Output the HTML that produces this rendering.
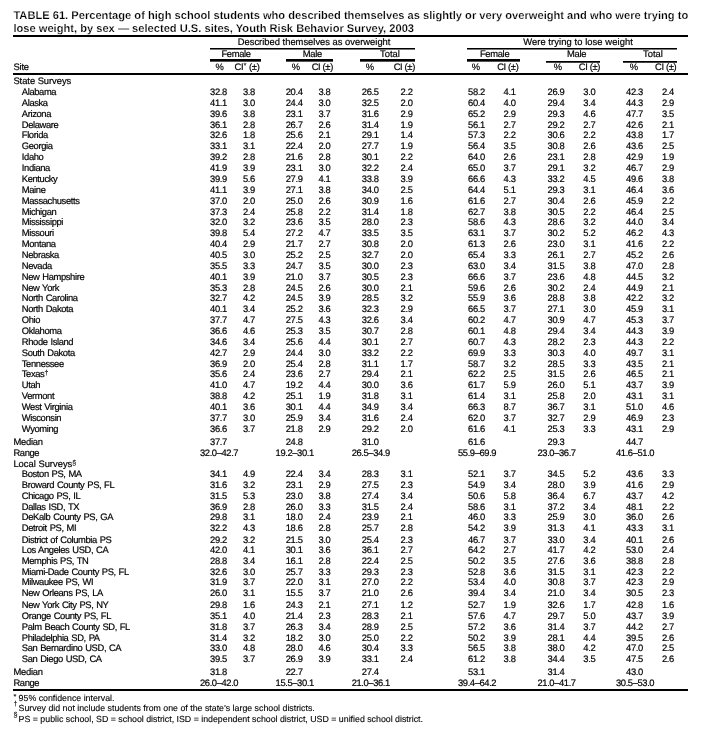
<!DOCTYPE html>
<html><head><meta charset="utf-8"><title>Table 61</title>
<style>
html,body{margin:0;padding:0;background:#fff;}
body{width:704px;height:737px;position:relative;overflow:hidden;font-family:"Liberation Sans",sans-serif;color:#000;font-size:9.4px;line-height:11px;text-rendering:geometricPrecision;-webkit-text-stroke:0.2px #000;}
#w{position:absolute;left:0;top:0;width:704px;height:737px;will-change:transform;}
.title{position:absolute;left:13.4px;font-weight:bold;-webkit-text-stroke:0.2px #fff;font-size:11.13px;line-height:12px;white-space:nowrap;}
.r{position:absolute;left:0;width:704px;height:10px;white-space:nowrap;}
.r span{position:absolute;top:0;}
.nm{left:13.4px;}
.nm.i{left:21.8px;letter-spacing:-0.37px;word-spacing:0.6px;}
.n{width:60px;text-align:center;letter-spacing:-0.36px;}
.rg .n{letter-spacing:-0.39px;}
.h{position:absolute;width:200px;text-align:center;white-space:nowrap;}
.rule{position:absolute;background:#000;}
sup{font-size:7px;line-height:0;vertical-align:1.7px;letter-spacing:0;-webkit-text-stroke:0.1px #000;}
sup.st{font-size:7.6px;vertical-align:2.2px;}
.fn{position:absolute;left:13px;white-space:nowrap;font-size:8.8px;line-height:10px;-webkit-text-stroke:0.12px #000;}
.fn .m{position:absolute;left:0.5px;font-size:7.3px;-webkit-text-stroke:0.1px #000;}
.fn .t{position:absolute;left:5.6px;top:0;}
</style></head><body><div id="w">
<div class="title" style="top:10px">TABLE 61. Percentage of high school students who described themselves as slightly or very overweight and who were trying to</div>
<div class="title" style="top:23px">lose weight, by sex — selected U.S. sites, Youth Risk Behavior Survey, 2003</div>
<div class="rule" style="left:13.00px;top:35.00px;width:674.50px;height:2.00px"></div>
<div class="rule" style="left:13.00px;top:73.00px;width:674.50px;height:2.00px"></div>
<div class="rule" style="left:13.00px;top:689.00px;width:674.50px;height:2.00px"></div>
<span class="h" style="top:36px;left:214.12px;letter-spacing:0.00px">Described themselves as overweight</span>
<span class="h" style="top:36px;left:478.04px;letter-spacing:0.08px">Were trying to lose weight</span>
<div class="rule" style="left:210.00px;top:48.00px;width:204.50px;height:1.00px"></div>
<div class="rule" style="left:210.00px;top:49.00px;width:204.50px;height:1px;background:#777"></div>
<div class="rule" style="left:466.50px;top:48.00px;width:210.50px;height:1.00px"></div>
<div class="rule" style="left:466.50px;top:49.00px;width:210.50px;height:1px;background:#777"></div>
<span class="h" style="top:48px;left:136.09px;letter-spacing:-0.31px">Female</span>
<span class="h" style="top:48px;left:212.32px;letter-spacing:-0.35px">Male</span>
<span class="h" style="top:48px;left:290.01px;letter-spacing:0.03px">Total</span>
<span class="h" style="top:48px;left:394.60px;letter-spacing:-0.31px">Female</span>
<span class="h" style="top:48px;left:476.57px;letter-spacing:-0.35px">Male</span>
<span class="h" style="top:48px;left:553.01px;letter-spacing:0.03px">Total</span>
<div class="rule" style="left:210.00px;top:59.00px;width:50.50px;height:2.00px"></div>
<div class="rule" style="left:210.00px;top:61.00px;width:50.50px;height:1px;background:#555"></div>
<div class="rule" style="left:286.00px;top:59.00px;width:46.50px;height:2.00px"></div>
<div class="rule" style="left:286.00px;top:61.00px;width:46.50px;height:1px;background:#555"></div>
<div class="rule" style="left:360.00px;top:59.00px;width:54.50px;height:2.00px"></div>
<div class="rule" style="left:360.00px;top:61.00px;width:54.50px;height:1px;background:#555"></div>
<div class="rule" style="left:466.50px;top:59.00px;width:53.00px;height:2.00px"></div>
<div class="rule" style="left:466.50px;top:61.00px;width:53.00px;height:1px;background:#555"></div>
<div class="rule" style="left:546.00px;top:61.00px;width:54.00px;height:1.00px"></div>
<div class="rule" style="left:546.00px;top:62.00px;width:54.00px;height:1px;background:#444"></div>
<div class="rule" style="left:623.00px;top:61.00px;width:54.00px;height:1.00px"></div>
<div class="rule" style="left:623.00px;top:62.00px;width:54.00px;height:1px;background:#444"></div>
<span class="h" style="top:61px;left:119.70px;letter-spacing:0.00px">%</span>
<span class="h" style="top:61px;left:147.12px;letter-spacing:-0.15px">CI<sup class="st">*</sup> (±)</span>
<span class="h" style="top:61px;left:196.00px;letter-spacing:0.00px">%</span>
<span class="h" style="top:61px;left:222.32px;letter-spacing:-0.36px">CI (±)</span>
<span class="h" style="top:61px;left:269.90px;letter-spacing:0.00px">%</span>
<span class="h" style="top:61px;left:304.32px;letter-spacing:-0.36px">CI (±)</span>
<span class="h" style="top:61px;left:376.00px;letter-spacing:0.00px">%</span>
<span class="h" style="top:61px;left:407.82px;letter-spacing:-0.36px">CI (±)</span>
<span class="h" style="top:61px;left:458.00px;letter-spacing:0.00px">%</span>
<span class="h" style="top:61px;left:489.42px;letter-spacing:-0.36px">CI (±)</span>
<span class="h" style="top:61px;left:534.00px;letter-spacing:0.00px">%</span>
<span class="h" style="top:61px;left:565.72px;letter-spacing:-0.36px">CI (±)</span>
<span class="h" style="top:61px;left:13.4px;width:auto;text-align:left;letter-spacing:-0.17px">Site</span>
<div class="r" style="top:86px"><span class="nm i">Alabama</span><span class="n" style="left:188.50px">32.8</span><span class="n" style="left:218.90px">3.8</span><span class="n" style="left:264.10px">20.4</span><span class="n" style="left:294.50px">3.8</span><span class="n" style="left:340.20px">26.5</span><span class="n" style="left:376.60px">2.2</span><span class="n" style="left:446.50px">58.2</span><span class="n" style="left:479.60px">4.1</span><span class="n" style="left:526.00px">26.9</span><span class="n" style="left:559.30px">3.0</span><span class="n" style="left:604.50px">42.3</span><span class="n" style="left:638.00px">2.4</span></div>
<div class="r" style="top:97px"><span class="nm i">Alaska</span><span class="n" style="left:188.50px">41.1</span><span class="n" style="left:218.90px">3.0</span><span class="n" style="left:264.10px">24.4</span><span class="n" style="left:294.50px">3.0</span><span class="n" style="left:340.20px">32.5</span><span class="n" style="left:376.60px">2.0</span><span class="n" style="left:446.50px">60.4</span><span class="n" style="left:479.60px">4.0</span><span class="n" style="left:526.00px">29.4</span><span class="n" style="left:559.30px">3.4</span><span class="n" style="left:604.50px">44.3</span><span class="n" style="left:638.00px">2.9</span></div>
<div class="r" style="top:108px"><span class="nm i">Arizona</span><span class="n" style="left:188.50px">39.6</span><span class="n" style="left:218.90px">3.8</span><span class="n" style="left:264.10px">23.1</span><span class="n" style="left:294.50px">3.7</span><span class="n" style="left:340.20px">31.6</span><span class="n" style="left:376.60px">2.9</span><span class="n" style="left:446.50px">65.2</span><span class="n" style="left:479.60px">2.9</span><span class="n" style="left:526.00px">29.3</span><span class="n" style="left:559.30px">4.6</span><span class="n" style="left:604.50px">47.7</span><span class="n" style="left:638.00px">3.5</span></div>
<div class="r" style="top:119px"><span class="nm i">Delaware</span><span class="n" style="left:188.50px">36.1</span><span class="n" style="left:218.90px">2.8</span><span class="n" style="left:264.10px">26.7</span><span class="n" style="left:294.50px">2.6</span><span class="n" style="left:340.20px">31.4</span><span class="n" style="left:376.60px">1.9</span><span class="n" style="left:446.50px">56.1</span><span class="n" style="left:479.60px">2.7</span><span class="n" style="left:526.00px">29.2</span><span class="n" style="left:559.30px">2.7</span><span class="n" style="left:604.50px">42.6</span><span class="n" style="left:638.00px">2.1</span></div>
<div class="r" style="top:129px"><span class="nm i">Florida</span><span class="n" style="left:188.50px">32.6</span><span class="n" style="left:218.90px">1.8</span><span class="n" style="left:264.10px">25.6</span><span class="n" style="left:294.50px">2.1</span><span class="n" style="left:340.20px">29.1</span><span class="n" style="left:376.60px">1.4</span><span class="n" style="left:446.50px">57.3</span><span class="n" style="left:479.60px">2.2</span><span class="n" style="left:526.00px">30.6</span><span class="n" style="left:559.30px">2.2</span><span class="n" style="left:604.50px">43.8</span><span class="n" style="left:638.00px">1.7</span></div>
<div class="r" style="top:140px"><span class="nm i">Georgia</span><span class="n" style="left:188.50px">33.1</span><span class="n" style="left:218.90px">3.1</span><span class="n" style="left:264.10px">22.4</span><span class="n" style="left:294.50px">2.0</span><span class="n" style="left:340.20px">27.7</span><span class="n" style="left:376.60px">1.9</span><span class="n" style="left:446.50px">56.4</span><span class="n" style="left:479.60px">3.5</span><span class="n" style="left:526.00px">30.8</span><span class="n" style="left:559.30px">2.6</span><span class="n" style="left:604.50px">43.6</span><span class="n" style="left:638.00px">2.5</span></div>
<div class="r" style="top:151px"><span class="nm i">Idaho</span><span class="n" style="left:188.50px">39.2</span><span class="n" style="left:218.90px">2.8</span><span class="n" style="left:264.10px">21.6</span><span class="n" style="left:294.50px">2.8</span><span class="n" style="left:340.20px">30.1</span><span class="n" style="left:376.60px">2.2</span><span class="n" style="left:446.50px">64.0</span><span class="n" style="left:479.60px">2.6</span><span class="n" style="left:526.00px">23.1</span><span class="n" style="left:559.30px">2.8</span><span class="n" style="left:604.50px">42.9</span><span class="n" style="left:638.00px">1.9</span></div>
<div class="r" style="top:162px"><span class="nm i">Indiana</span><span class="n" style="left:188.50px">41.9</span><span class="n" style="left:218.90px">3.9</span><span class="n" style="left:264.10px">23.1</span><span class="n" style="left:294.50px">3.0</span><span class="n" style="left:340.20px">32.2</span><span class="n" style="left:376.60px">2.4</span><span class="n" style="left:446.50px">65.0</span><span class="n" style="left:479.60px">3.7</span><span class="n" style="left:526.00px">29.1</span><span class="n" style="left:559.30px">3.2</span><span class="n" style="left:604.50px">46.7</span><span class="n" style="left:638.00px">2.9</span></div>
<div class="r" style="top:173px"><span class="nm i">Kentucky</span><span class="n" style="left:188.50px">39.9</span><span class="n" style="left:218.90px">5.6</span><span class="n" style="left:264.10px">27.9</span><span class="n" style="left:294.50px">4.1</span><span class="n" style="left:340.20px">33.8</span><span class="n" style="left:376.60px">3.9</span><span class="n" style="left:446.50px">66.6</span><span class="n" style="left:479.60px">4.3</span><span class="n" style="left:526.00px">33.2</span><span class="n" style="left:559.30px">4.5</span><span class="n" style="left:604.50px">49.6</span><span class="n" style="left:638.00px">3.8</span></div>
<div class="r" style="top:184px"><span class="nm i">Maine</span><span class="n" style="left:188.50px">41.1</span><span class="n" style="left:218.90px">3.9</span><span class="n" style="left:264.10px">27.1</span><span class="n" style="left:294.50px">3.8</span><span class="n" style="left:340.20px">34.0</span><span class="n" style="left:376.60px">2.5</span><span class="n" style="left:446.50px">64.4</span><span class="n" style="left:479.60px">5.1</span><span class="n" style="left:526.00px">29.3</span><span class="n" style="left:559.30px">3.1</span><span class="n" style="left:604.50px">46.4</span><span class="n" style="left:638.00px">3.6</span></div>
<div class="r" style="top:195px"><span class="nm i">Massachusetts</span><span class="n" style="left:188.50px">37.0</span><span class="n" style="left:218.90px">2.0</span><span class="n" style="left:264.10px">25.0</span><span class="n" style="left:294.50px">2.6</span><span class="n" style="left:340.20px">30.9</span><span class="n" style="left:376.60px">1.6</span><span class="n" style="left:446.50px">61.6</span><span class="n" style="left:479.60px">2.7</span><span class="n" style="left:526.00px">30.4</span><span class="n" style="left:559.30px">2.6</span><span class="n" style="left:604.50px">45.9</span><span class="n" style="left:638.00px">2.2</span></div>
<div class="r" style="top:206px"><span class="nm i">Michigan</span><span class="n" style="left:188.50px">37.3</span><span class="n" style="left:218.90px">2.4</span><span class="n" style="left:264.10px">25.8</span><span class="n" style="left:294.50px">2.2</span><span class="n" style="left:340.20px">31.4</span><span class="n" style="left:376.60px">1.8</span><span class="n" style="left:446.50px">62.7</span><span class="n" style="left:479.60px">3.8</span><span class="n" style="left:526.00px">30.5</span><span class="n" style="left:559.30px">2.2</span><span class="n" style="left:604.50px">46.4</span><span class="n" style="left:638.00px">2.5</span></div>
<div class="r" style="top:216px"><span class="nm i">Mississippi</span><span class="n" style="left:188.50px">32.0</span><span class="n" style="left:218.90px">3.2</span><span class="n" style="left:264.10px">23.6</span><span class="n" style="left:294.50px">3.5</span><span class="n" style="left:340.20px">28.0</span><span class="n" style="left:376.60px">2.3</span><span class="n" style="left:446.50px">58.6</span><span class="n" style="left:479.60px">4.3</span><span class="n" style="left:526.00px">28.6</span><span class="n" style="left:559.30px">3.2</span><span class="n" style="left:604.50px">44.0</span><span class="n" style="left:638.00px">3.4</span></div>
<div class="r" style="top:227px"><span class="nm i">Missouri</span><span class="n" style="left:188.50px">39.8</span><span class="n" style="left:218.90px">5.4</span><span class="n" style="left:264.10px">27.2</span><span class="n" style="left:294.50px">4.7</span><span class="n" style="left:340.20px">33.5</span><span class="n" style="left:376.60px">3.5</span><span class="n" style="left:446.50px">63.1</span><span class="n" style="left:479.60px">3.7</span><span class="n" style="left:526.00px">30.2</span><span class="n" style="left:559.30px">5.2</span><span class="n" style="left:604.50px">46.2</span><span class="n" style="left:638.00px">4.3</span></div>
<div class="r" style="top:238px"><span class="nm i">Montana</span><span class="n" style="left:188.50px">40.4</span><span class="n" style="left:218.90px">2.9</span><span class="n" style="left:264.10px">21.7</span><span class="n" style="left:294.50px">2.7</span><span class="n" style="left:340.20px">30.8</span><span class="n" style="left:376.60px">2.0</span><span class="n" style="left:446.50px">61.3</span><span class="n" style="left:479.60px">2.6</span><span class="n" style="left:526.00px">23.0</span><span class="n" style="left:559.30px">3.1</span><span class="n" style="left:604.50px">41.6</span><span class="n" style="left:638.00px">2.2</span></div>
<div class="r" style="top:249px"><span class="nm i">Nebraska</span><span class="n" style="left:188.50px">40.5</span><span class="n" style="left:218.90px">3.0</span><span class="n" style="left:264.10px">25.2</span><span class="n" style="left:294.50px">2.5</span><span class="n" style="left:340.20px">32.7</span><span class="n" style="left:376.60px">2.0</span><span class="n" style="left:446.50px">65.4</span><span class="n" style="left:479.60px">3.3</span><span class="n" style="left:526.00px">26.1</span><span class="n" style="left:559.30px">2.7</span><span class="n" style="left:604.50px">45.2</span><span class="n" style="left:638.00px">2.6</span></div>
<div class="r" style="top:260px"><span class="nm i">Nevada</span><span class="n" style="left:188.50px">35.5</span><span class="n" style="left:218.90px">3.3</span><span class="n" style="left:264.10px">24.7</span><span class="n" style="left:294.50px">3.5</span><span class="n" style="left:340.20px">30.0</span><span class="n" style="left:376.60px">2.3</span><span class="n" style="left:446.50px">63.0</span><span class="n" style="left:479.60px">3.4</span><span class="n" style="left:526.00px">31.5</span><span class="n" style="left:559.30px">3.8</span><span class="n" style="left:604.50px">47.0</span><span class="n" style="left:638.00px">2.8</span></div>
<div class="r" style="top:271px"><span class="nm i">New Hampshire</span><span class="n" style="left:188.50px">40.1</span><span class="n" style="left:218.90px">3.9</span><span class="n" style="left:264.10px">21.0</span><span class="n" style="left:294.50px">3.7</span><span class="n" style="left:340.20px">30.5</span><span class="n" style="left:376.60px">2.3</span><span class="n" style="left:446.50px">66.6</span><span class="n" style="left:479.60px">3.7</span><span class="n" style="left:526.00px">23.6</span><span class="n" style="left:559.30px">4.8</span><span class="n" style="left:604.50px">44.5</span><span class="n" style="left:638.00px">3.2</span></div>
<div class="r" style="top:282px"><span class="nm i">New York</span><span class="n" style="left:188.50px">35.3</span><span class="n" style="left:218.90px">2.8</span><span class="n" style="left:264.10px">24.5</span><span class="n" style="left:294.50px">2.6</span><span class="n" style="left:340.20px">30.0</span><span class="n" style="left:376.60px">2.1</span><span class="n" style="left:446.50px">59.6</span><span class="n" style="left:479.60px">2.6</span><span class="n" style="left:526.00px">30.2</span><span class="n" style="left:559.30px">2.4</span><span class="n" style="left:604.50px">44.9</span><span class="n" style="left:638.00px">2.1</span></div>
<div class="r" style="top:292px"><span class="nm i">North Carolina</span><span class="n" style="left:188.50px">32.7</span><span class="n" style="left:218.90px">4.2</span><span class="n" style="left:264.10px">24.5</span><span class="n" style="left:294.50px">3.9</span><span class="n" style="left:340.20px">28.5</span><span class="n" style="left:376.60px">3.2</span><span class="n" style="left:446.50px">55.9</span><span class="n" style="left:479.60px">3.6</span><span class="n" style="left:526.00px">28.8</span><span class="n" style="left:559.30px">3.8</span><span class="n" style="left:604.50px">42.2</span><span class="n" style="left:638.00px">3.2</span></div>
<div class="r" style="top:303px"><span class="nm i">North Dakota</span><span class="n" style="left:188.50px">40.1</span><span class="n" style="left:218.90px">3.4</span><span class="n" style="left:264.10px">25.2</span><span class="n" style="left:294.50px">3.6</span><span class="n" style="left:340.20px">32.3</span><span class="n" style="left:376.60px">2.9</span><span class="n" style="left:446.50px">66.5</span><span class="n" style="left:479.60px">3.7</span><span class="n" style="left:526.00px">27.1</span><span class="n" style="left:559.30px">3.0</span><span class="n" style="left:604.50px">45.9</span><span class="n" style="left:638.00px">3.1</span></div>
<div class="r" style="top:314px"><span class="nm i">Ohio</span><span class="n" style="left:188.50px">37.7</span><span class="n" style="left:218.90px">4.7</span><span class="n" style="left:264.10px">27.5</span><span class="n" style="left:294.50px">4.3</span><span class="n" style="left:340.20px">32.6</span><span class="n" style="left:376.60px">3.4</span><span class="n" style="left:446.50px">60.2</span><span class="n" style="left:479.60px">4.7</span><span class="n" style="left:526.00px">30.9</span><span class="n" style="left:559.30px">4.7</span><span class="n" style="left:604.50px">45.3</span><span class="n" style="left:638.00px">3.7</span></div>
<div class="r" style="top:325px"><span class="nm i">Oklahoma</span><span class="n" style="left:188.50px">36.6</span><span class="n" style="left:218.90px">4.6</span><span class="n" style="left:264.10px">25.3</span><span class="n" style="left:294.50px">3.5</span><span class="n" style="left:340.20px">30.7</span><span class="n" style="left:376.60px">2.8</span><span class="n" style="left:446.50px">60.1</span><span class="n" style="left:479.60px">4.8</span><span class="n" style="left:526.00px">29.4</span><span class="n" style="left:559.30px">3.4</span><span class="n" style="left:604.50px">44.3</span><span class="n" style="left:638.00px">3.9</span></div>
<div class="r" style="top:336px"><span class="nm i">Rhode Island</span><span class="n" style="left:188.50px">34.6</span><span class="n" style="left:218.90px">3.4</span><span class="n" style="left:264.10px">25.6</span><span class="n" style="left:294.50px">4.4</span><span class="n" style="left:340.20px">30.1</span><span class="n" style="left:376.60px">2.7</span><span class="n" style="left:446.50px">60.7</span><span class="n" style="left:479.60px">4.3</span><span class="n" style="left:526.00px">28.2</span><span class="n" style="left:559.30px">2.3</span><span class="n" style="left:604.50px">44.3</span><span class="n" style="left:638.00px">2.2</span></div>
<div class="r" style="top:347px"><span class="nm i">South Dakota</span><span class="n" style="left:188.50px">42.7</span><span class="n" style="left:218.90px">2.9</span><span class="n" style="left:264.10px">24.4</span><span class="n" style="left:294.50px">3.0</span><span class="n" style="left:340.20px">33.2</span><span class="n" style="left:376.60px">2.2</span><span class="n" style="left:446.50px">69.9</span><span class="n" style="left:479.60px">3.3</span><span class="n" style="left:526.00px">30.3</span><span class="n" style="left:559.30px">4.0</span><span class="n" style="left:604.50px">49.7</span><span class="n" style="left:638.00px">3.1</span></div>
<div class="r" style="top:358px"><span class="nm i">Tennessee</span><span class="n" style="left:188.50px">36.9</span><span class="n" style="left:218.90px">2.0</span><span class="n" style="left:264.10px">25.4</span><span class="n" style="left:294.50px">2.8</span><span class="n" style="left:340.20px">31.1</span><span class="n" style="left:376.60px">1.7</span><span class="n" style="left:446.50px">58.7</span><span class="n" style="left:479.60px">3.2</span><span class="n" style="left:526.00px">28.5</span><span class="n" style="left:559.30px">3.3</span><span class="n" style="left:604.50px">43.5</span><span class="n" style="left:638.00px">2.1</span></div>
<div class="r" style="top:368px"><span class="nm i">Texas<sup>†</sup></span><span class="n" style="left:188.50px">35.6</span><span class="n" style="left:218.90px">2.4</span><span class="n" style="left:264.10px">23.6</span><span class="n" style="left:294.50px">2.7</span><span class="n" style="left:340.20px">29.4</span><span class="n" style="left:376.60px">2.1</span><span class="n" style="left:446.50px">62.2</span><span class="n" style="left:479.60px">2.5</span><span class="n" style="left:526.00px">31.5</span><span class="n" style="left:559.30px">2.6</span><span class="n" style="left:604.50px">46.5</span><span class="n" style="left:638.00px">2.1</span></div>
<div class="r" style="top:379px"><span class="nm i">Utah</span><span class="n" style="left:188.50px">41.0</span><span class="n" style="left:218.90px">4.7</span><span class="n" style="left:264.10px">19.2</span><span class="n" style="left:294.50px">4.4</span><span class="n" style="left:340.20px">30.0</span><span class="n" style="left:376.60px">3.6</span><span class="n" style="left:446.50px">61.7</span><span class="n" style="left:479.60px">5.9</span><span class="n" style="left:526.00px">26.0</span><span class="n" style="left:559.30px">5.1</span><span class="n" style="left:604.50px">43.7</span><span class="n" style="left:638.00px">3.9</span></div>
<div class="r" style="top:390px"><span class="nm i">Vermont</span><span class="n" style="left:188.50px">38.8</span><span class="n" style="left:218.90px">4.2</span><span class="n" style="left:264.10px">25.1</span><span class="n" style="left:294.50px">1.9</span><span class="n" style="left:340.20px">31.8</span><span class="n" style="left:376.60px">3.1</span><span class="n" style="left:446.50px">61.4</span><span class="n" style="left:479.60px">3.1</span><span class="n" style="left:526.00px">25.8</span><span class="n" style="left:559.30px">2.0</span><span class="n" style="left:604.50px">43.1</span><span class="n" style="left:638.00px">3.1</span></div>
<div class="r" style="top:401px"><span class="nm i">West Virginia</span><span class="n" style="left:188.50px">40.1</span><span class="n" style="left:218.90px">3.6</span><span class="n" style="left:264.10px">30.1</span><span class="n" style="left:294.50px">4.4</span><span class="n" style="left:340.20px">34.9</span><span class="n" style="left:376.60px">3.4</span><span class="n" style="left:446.50px">66.3</span><span class="n" style="left:479.60px">8.7</span><span class="n" style="left:526.00px">36.7</span><span class="n" style="left:559.30px">3.1</span><span class="n" style="left:604.50px">51.0</span><span class="n" style="left:638.00px">4.6</span></div>
<div class="r" style="top:412px"><span class="nm i">Wisconsin</span><span class="n" style="left:188.50px">37.7</span><span class="n" style="left:218.90px">3.0</span><span class="n" style="left:264.10px">25.9</span><span class="n" style="left:294.50px">3.4</span><span class="n" style="left:340.20px">31.6</span><span class="n" style="left:376.60px">2.4</span><span class="n" style="left:446.50px">62.0</span><span class="n" style="left:479.60px">3.7</span><span class="n" style="left:526.00px">32.7</span><span class="n" style="left:559.30px">2.9</span><span class="n" style="left:604.50px">46.9</span><span class="n" style="left:638.00px">2.3</span></div>
<div class="r" style="top:423px"><span class="nm i">Wyoming</span><span class="n" style="left:188.50px">36.6</span><span class="n" style="left:218.90px">3.7</span><span class="n" style="left:264.10px">21.8</span><span class="n" style="left:294.50px">2.9</span><span class="n" style="left:340.20px">29.2</span><span class="n" style="left:376.60px">2.0</span><span class="n" style="left:446.50px">61.6</span><span class="n" style="left:479.60px">4.1</span><span class="n" style="left:526.00px">25.3</span><span class="n" style="left:559.30px">3.3</span><span class="n" style="left:604.50px">43.1</span><span class="n" style="left:638.00px">2.9</span></div>
<div class="r" style="top:75px"><span class="nm" style="letter-spacing:-0.04px">State Surveys</span></div>
<div class="r" style="top:436px"><span class="nm" style="letter-spacing:-0.21px">Median</span><span class="n" style="left:188.50px">37.7</span><span class="n" style="left:264.10px">24.8</span><span class="n" style="left:340.20px">31.0</span><span class="n" style="left:446.50px">61.6</span><span class="n" style="left:526.00px">29.3</span><span class="n" style="left:604.50px">44.7</span></div>
<div class="r rg" style="top:447px"><span class="nm" style="letter-spacing:-0.36px">Range</span><span class="n" style="left:189.10px">32.0–42.7</span><span class="n" style="left:264.70px">19.2–30.1</span><span class="n" style="left:340.80px">26.5–34.9</span><span class="n" style="left:447.10px">55.9–69.9</span><span class="n" style="left:526.60px">23.0–36.7</span><span class="n" style="left:605.10px">41.6–51.0</span></div>
<div class="r" style="top:458px"><span class="nm" style="letter-spacing:0.00px">Local Surveys<sup>§</sup></span></div>
<div class="r" style="top:468px"><span class="nm i">Boston PS, MA</span><span class="n" style="left:188.50px">34.1</span><span class="n" style="left:218.90px">4.9</span><span class="n" style="left:264.10px">22.4</span><span class="n" style="left:294.50px">3.4</span><span class="n" style="left:340.20px">28.3</span><span class="n" style="left:376.60px">3.1</span><span class="n" style="left:446.50px">52.1</span><span class="n" style="left:479.60px">3.7</span><span class="n" style="left:526.00px">34.5</span><span class="n" style="left:559.30px">5.2</span><span class="n" style="left:604.50px">43.6</span><span class="n" style="left:638.00px">3.3</span></div>
<div class="r" style="top:479px"><span class="nm i">Broward County PS, FL</span><span class="n" style="left:188.50px">31.6</span><span class="n" style="left:218.90px">3.2</span><span class="n" style="left:264.10px">23.1</span><span class="n" style="left:294.50px">2.9</span><span class="n" style="left:340.20px">27.5</span><span class="n" style="left:376.60px">2.3</span><span class="n" style="left:446.50px">54.9</span><span class="n" style="left:479.60px">3.4</span><span class="n" style="left:526.00px">28.0</span><span class="n" style="left:559.30px">3.9</span><span class="n" style="left:604.50px">41.6</span><span class="n" style="left:638.00px">2.9</span></div>
<div class="r" style="top:490px"><span class="nm i">Chicago PS, IL</span><span class="n" style="left:188.50px">31.5</span><span class="n" style="left:218.90px">5.3</span><span class="n" style="left:264.10px">23.0</span><span class="n" style="left:294.50px">3.8</span><span class="n" style="left:340.20px">27.4</span><span class="n" style="left:376.60px">3.4</span><span class="n" style="left:446.50px">50.6</span><span class="n" style="left:479.60px">5.8</span><span class="n" style="left:526.00px">36.4</span><span class="n" style="left:559.30px">6.7</span><span class="n" style="left:604.50px">43.7</span><span class="n" style="left:638.00px">4.2</span></div>
<div class="r" style="top:501px"><span class="nm i">Dallas ISD, TX</span><span class="n" style="left:188.50px">36.9</span><span class="n" style="left:218.90px">2.8</span><span class="n" style="left:264.10px">26.0</span><span class="n" style="left:294.50px">3.3</span><span class="n" style="left:340.20px">31.5</span><span class="n" style="left:376.60px">2.4</span><span class="n" style="left:446.50px">58.6</span><span class="n" style="left:479.60px">3.1</span><span class="n" style="left:526.00px">37.2</span><span class="n" style="left:559.30px">3.4</span><span class="n" style="left:604.50px">48.1</span><span class="n" style="left:638.00px">2.2</span></div>
<div class="r" style="top:511px"><span class="nm i">DeKalb County PS, GA</span><span class="n" style="left:188.50px">29.8</span><span class="n" style="left:218.90px">3.1</span><span class="n" style="left:264.10px">18.0</span><span class="n" style="left:294.50px">2.4</span><span class="n" style="left:340.20px">23.9</span><span class="n" style="left:376.60px">2.1</span><span class="n" style="left:446.50px">46.0</span><span class="n" style="left:479.60px">3.3</span><span class="n" style="left:526.00px">25.9</span><span class="n" style="left:559.30px">3.0</span><span class="n" style="left:604.50px">36.0</span><span class="n" style="left:638.00px">2.6</span></div>
<div class="r" style="top:522px"><span class="nm i">Detroit PS, MI</span><span class="n" style="left:188.50px">32.2</span><span class="n" style="left:218.90px">4.3</span><span class="n" style="left:264.10px">18.6</span><span class="n" style="left:294.50px">2.8</span><span class="n" style="left:340.20px">25.7</span><span class="n" style="left:376.60px">2.8</span><span class="n" style="left:446.50px">54.2</span><span class="n" style="left:479.60px">3.9</span><span class="n" style="left:526.00px">31.3</span><span class="n" style="left:559.30px">4.1</span><span class="n" style="left:604.50px">43.3</span><span class="n" style="left:638.00px">3.1</span></div>
<div class="r" style="top:534px"><span class="nm i">District of Columbia PS</span><span class="n" style="left:188.50px">29.2</span><span class="n" style="left:218.90px">3.2</span><span class="n" style="left:264.10px">21.5</span><span class="n" style="left:294.50px">3.0</span><span class="n" style="left:340.20px">25.4</span><span class="n" style="left:376.60px">2.3</span><span class="n" style="left:446.50px">46.7</span><span class="n" style="left:479.60px">3.7</span><span class="n" style="left:526.00px">33.0</span><span class="n" style="left:559.30px">3.4</span><span class="n" style="left:604.50px">40.1</span><span class="n" style="left:638.00px">2.6</span></div>
<div class="r" style="top:544px"><span class="nm i">Los Angeles USD, CA</span><span class="n" style="left:188.50px">42.0</span><span class="n" style="left:218.90px">4.1</span><span class="n" style="left:264.10px">30.1</span><span class="n" style="left:294.50px">3.6</span><span class="n" style="left:340.20px">36.1</span><span class="n" style="left:376.60px">2.7</span><span class="n" style="left:446.50px">64.2</span><span class="n" style="left:479.60px">2.7</span><span class="n" style="left:526.00px">41.7</span><span class="n" style="left:559.30px">4.2</span><span class="n" style="left:604.50px">53.0</span><span class="n" style="left:638.00px">2.4</span></div>
<div class="r" style="top:555px"><span class="nm i">Memphis PS, TN</span><span class="n" style="left:188.50px">28.8</span><span class="n" style="left:218.90px">3.4</span><span class="n" style="left:264.10px">16.1</span><span class="n" style="left:294.50px">2.8</span><span class="n" style="left:340.20px">22.4</span><span class="n" style="left:376.60px">2.5</span><span class="n" style="left:446.50px">50.2</span><span class="n" style="left:479.60px">3.5</span><span class="n" style="left:526.00px">27.6</span><span class="n" style="left:559.30px">3.6</span><span class="n" style="left:604.50px">38.8</span><span class="n" style="left:638.00px">2.8</span></div>
<div class="r" style="top:566px"><span class="nm i">Miami-Dade County PS, FL</span><span class="n" style="left:188.50px">32.6</span><span class="n" style="left:218.90px">3.0</span><span class="n" style="left:264.10px">25.7</span><span class="n" style="left:294.50px">3.3</span><span class="n" style="left:340.20px">29.3</span><span class="n" style="left:376.60px">2.3</span><span class="n" style="left:446.50px">52.8</span><span class="n" style="left:479.60px">3.6</span><span class="n" style="left:526.00px">31.5</span><span class="n" style="left:559.30px">3.1</span><span class="n" style="left:604.50px">42.3</span><span class="n" style="left:638.00px">2.2</span></div>
<div class="r" style="top:576px"><span class="nm i">Milwaukee PS, WI</span><span class="n" style="left:188.50px">31.9</span><span class="n" style="left:218.90px">3.7</span><span class="n" style="left:264.10px">22.0</span><span class="n" style="left:294.50px">3.1</span><span class="n" style="left:340.20px">27.0</span><span class="n" style="left:376.60px">2.2</span><span class="n" style="left:446.50px">53.4</span><span class="n" style="left:479.60px">4.0</span><span class="n" style="left:526.00px">30.8</span><span class="n" style="left:559.30px">3.7</span><span class="n" style="left:604.50px">42.3</span><span class="n" style="left:638.00px">2.9</span></div>
<div class="r" style="top:587px"><span class="nm i">New Orleans PS, LA</span><span class="n" style="left:188.50px">26.0</span><span class="n" style="left:218.90px">3.1</span><span class="n" style="left:264.10px">15.5</span><span class="n" style="left:294.50px">3.7</span><span class="n" style="left:340.20px">21.0</span><span class="n" style="left:376.60px">2.6</span><span class="n" style="left:446.50px">39.4</span><span class="n" style="left:479.60px">3.4</span><span class="n" style="left:526.00px">21.0</span><span class="n" style="left:559.30px">3.4</span><span class="n" style="left:604.50px">30.5</span><span class="n" style="left:638.00px">2.3</span></div>
<div class="r" style="top:599px"><span class="nm i">New York City PS, NY</span><span class="n" style="left:188.50px">29.8</span><span class="n" style="left:218.90px">1.6</span><span class="n" style="left:264.10px">24.3</span><span class="n" style="left:294.50px">2.1</span><span class="n" style="left:340.20px">27.1</span><span class="n" style="left:376.60px">1.2</span><span class="n" style="left:446.50px">52.7</span><span class="n" style="left:479.60px">1.9</span><span class="n" style="left:526.00px">32.6</span><span class="n" style="left:559.30px">1.7</span><span class="n" style="left:604.50px">42.8</span><span class="n" style="left:638.00px">1.6</span></div>
<div class="r" style="top:610px"><span class="nm i">Orange County PS, FL</span><span class="n" style="left:188.50px">35.1</span><span class="n" style="left:218.90px">4.0</span><span class="n" style="left:264.10px">21.4</span><span class="n" style="left:294.50px">2.3</span><span class="n" style="left:340.20px">28.3</span><span class="n" style="left:376.60px">2.1</span><span class="n" style="left:446.50px">57.6</span><span class="n" style="left:479.60px">4.7</span><span class="n" style="left:526.00px">29.7</span><span class="n" style="left:559.30px">5.0</span><span class="n" style="left:604.50px">43.7</span><span class="n" style="left:638.00px">3.9</span></div>
<div class="r" style="top:621px"><span class="nm i">Palm Beach County SD, FL</span><span class="n" style="left:188.50px">31.8</span><span class="n" style="left:218.90px">3.7</span><span class="n" style="left:264.10px">26.3</span><span class="n" style="left:294.50px">3.4</span><span class="n" style="left:340.20px">28.9</span><span class="n" style="left:376.60px">2.5</span><span class="n" style="left:446.50px">57.2</span><span class="n" style="left:479.60px">3.6</span><span class="n" style="left:526.00px">31.4</span><span class="n" style="left:559.30px">3.7</span><span class="n" style="left:604.50px">44.2</span><span class="n" style="left:638.00px">2.7</span></div>
<div class="r" style="top:632px"><span class="nm i">Philadelphia SD, PA</span><span class="n" style="left:188.50px">31.4</span><span class="n" style="left:218.90px">3.2</span><span class="n" style="left:264.10px">18.2</span><span class="n" style="left:294.50px">3.0</span><span class="n" style="left:340.20px">25.0</span><span class="n" style="left:376.60px">2.2</span><span class="n" style="left:446.50px">50.2</span><span class="n" style="left:479.60px">3.9</span><span class="n" style="left:526.00px">28.1</span><span class="n" style="left:559.30px">4.4</span><span class="n" style="left:604.50px">39.5</span><span class="n" style="left:638.00px">2.6</span></div>
<div class="r" style="top:642px"><span class="nm i">San Bernardino USD, CA</span><span class="n" style="left:188.50px">33.0</span><span class="n" style="left:218.90px">4.8</span><span class="n" style="left:264.10px">28.0</span><span class="n" style="left:294.50px">4.6</span><span class="n" style="left:340.20px">30.4</span><span class="n" style="left:376.60px">3.3</span><span class="n" style="left:446.50px">56.5</span><span class="n" style="left:479.60px">3.8</span><span class="n" style="left:526.00px">38.0</span><span class="n" style="left:559.30px">4.2</span><span class="n" style="left:604.50px">47.0</span><span class="n" style="left:638.00px">2.5</span></div>
<div class="r" style="top:653px"><span class="nm i">San Diego USD, CA</span><span class="n" style="left:188.50px">39.5</span><span class="n" style="left:218.90px">3.7</span><span class="n" style="left:264.10px">26.9</span><span class="n" style="left:294.50px">3.9</span><span class="n" style="left:340.20px">33.1</span><span class="n" style="left:376.60px">2.4</span><span class="n" style="left:446.50px">61.2</span><span class="n" style="left:479.60px">3.8</span><span class="n" style="left:526.00px">34.4</span><span class="n" style="left:559.30px">3.5</span><span class="n" style="left:604.50px">47.5</span><span class="n" style="left:638.00px">2.6</span></div>
<div class="r" style="top:666px"><span class="nm" style="letter-spacing:-0.21px">Median</span><span class="n" style="left:188.50px">31.8</span><span class="n" style="left:264.10px">22.7</span><span class="n" style="left:340.20px">27.4</span><span class="n" style="left:446.50px">53.1</span><span class="n" style="left:526.00px">31.4</span><span class="n" style="left:604.50px">43.0</span></div>
<div class="r rg" style="top:677px"><span class="nm" style="letter-spacing:-0.36px">Range</span><span class="n" style="left:189.10px">26.0–42.0</span><span class="n" style="left:264.70px">15.5–30.1</span><span class="n" style="left:340.80px">21.0–36.1</span><span class="n" style="left:447.10px">39.4–64.2</span><span class="n" style="left:526.60px">21.0–41.7</span><span class="n" style="left:605.10px">30.5–53.0</span></div>
<div class="fn" style="top:693px"><span class="m" style="top:-1.2px">*</span><span class="t">95% confidence interval.</span></div>
<div class="fn" style="top:703px"><span class="m" style="top:-4.2px">†</span><span class="t">Survey did not include students from one of the state’s large school districts.</span></div>
<div class="fn" style="top:714px"><span class="m" style="top:-4.3px">§</span><span class="t">PS = public school, SD = school district, ISD = independent school district, USD = unified school district.</span></div>
</div></body></html>
